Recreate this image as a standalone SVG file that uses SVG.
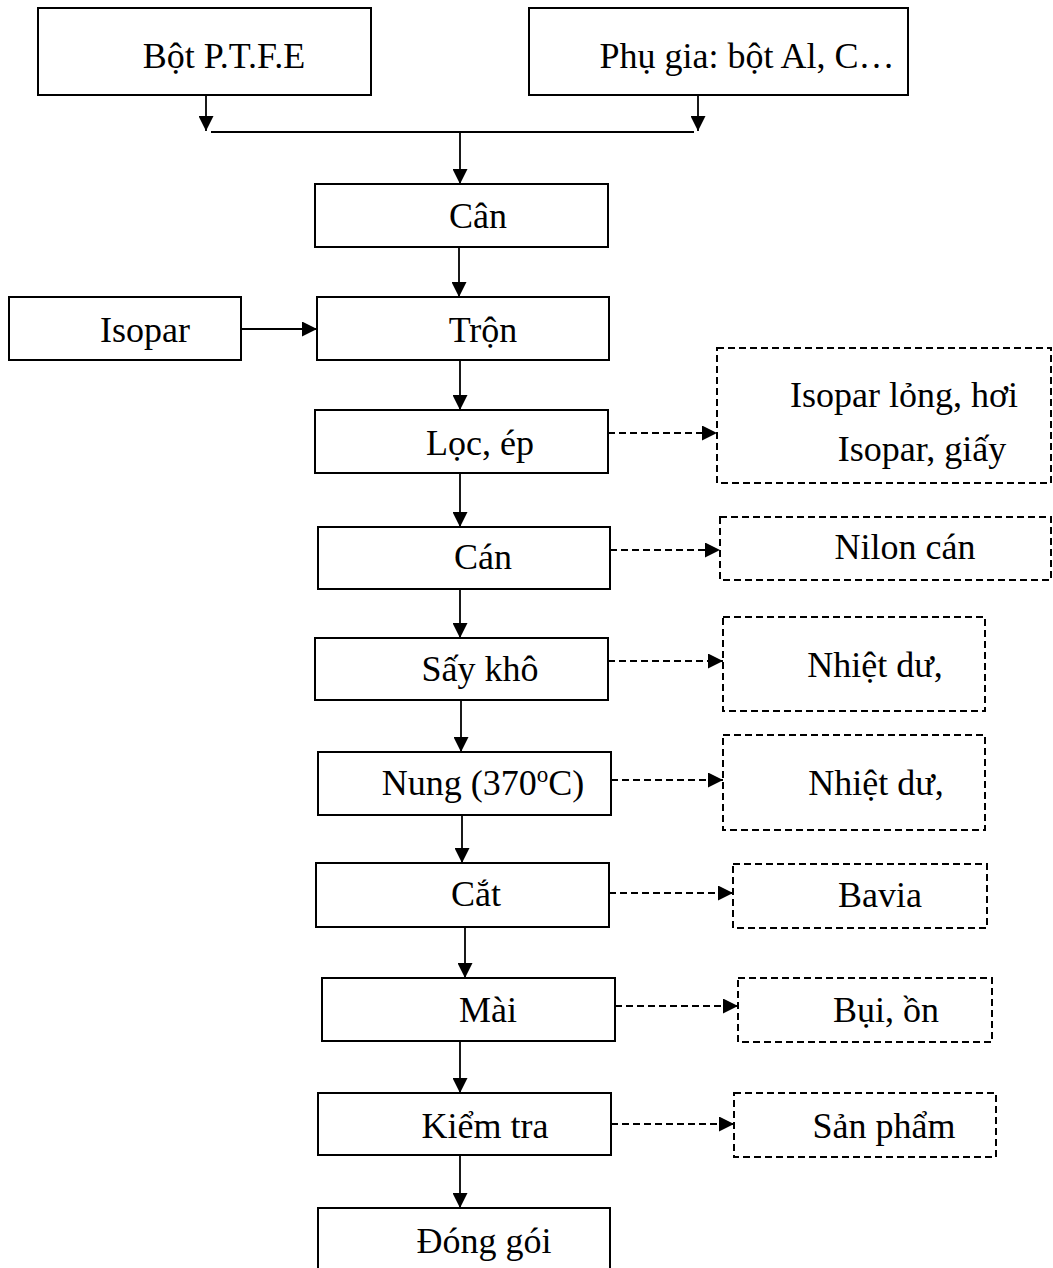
<svg xmlns="http://www.w3.org/2000/svg" width="1053" height="1268" viewBox="0 0 1053 1268">
  <style>
    .box { fill: #fff; stroke: #000; stroke-width: 2; }
    .dbox { fill: #fff; stroke: #000; stroke-width: 2; stroke-dasharray: 7 4; }
    .lbl { font-family: "Liberation Serif", "Times New Roman", serif; font-size: 36px; fill: #000; text-anchor: middle; }
    .ln { fill: none; stroke: #000; stroke-width: 1.8; }
    .dln { fill: none; stroke: #000; stroke-width: 2; stroke-dasharray: 7 4; }
  </style>
  <defs>
    <marker id="ah" markerUnits="userSpaceOnUse" markerWidth="16" markerHeight="15" refX="15" refY="7.5" orient="auto">
      <path d="M0,0 L15,7.5 L0,15 Z" fill="#000"/>
    </marker>
  </defs>

  <rect width="1053" height="1268" fill="#fff"/>

  <!-- process steps -->
  <g id="n-ptfe"><rect class="box" x="38" y="8" width="333" height="87"/><text class="lbl" x="224" y="68">Bột P.T.F.E</text></g>
  <g id="n-phugia"><rect class="box" x="529" y="8" width="379" height="87"/><text class="lbl" x="747" y="68">Phụ gia: bột Al, C…</text></g>
  <g id="n-can"><rect class="box" x="315" y="184" width="293" height="63"/><text class="lbl" x="478" y="228">Cân</text></g>
  <g id="n-isopar"><rect class="box" x="9" y="297" width="232" height="63"/><text class="lbl" x="145" y="342">Isopar</text></g>
  <g id="n-tron"><rect class="box" x="317" y="297" width="292" height="63"/><text class="lbl" x="483" y="342">Trộn</text></g>
  <g id="n-loc"><rect class="box" x="315" y="410" width="293" height="63"/><text class="lbl" x="480" y="455">Lọc, ép</text></g>
  <g id="n-cancuon"><rect class="box" x="318" y="527" width="292" height="62"/><text class="lbl" x="483" y="569">Cán</text></g>
  <g id="n-say"><rect class="box" x="315" y="638" width="293" height="62"/><text class="lbl" x="480" y="681">Sấy khô</text></g>
  <g id="n-nung"><rect class="box" x="318" y="752" width="293" height="63"/><text class="lbl" x="483" y="795">Nung (370<tspan font-size="23" dy="-13">o</tspan><tspan dy="13">C)</tspan></text></g>
  <g id="n-cat"><rect class="box" x="316" y="863" width="293" height="64"/><text class="lbl" x="476" y="906">Cắt</text></g>
  <g id="n-mai"><rect class="box" x="322" y="978" width="293" height="63"/><text class="lbl" x="488" y="1022">Mài</text></g>
  <g id="n-kiemtra"><rect class="box" x="318" y="1093" width="293" height="62"/><text class="lbl" x="485" y="1138">Kiểm tra</text></g>
  <g id="n-donggoi"><rect class="box" x="318" y="1208" width="292" height="80"/><text class="lbl" x="484" y="1253">Đóng gói</text></g>

  <!-- by-products / emissions -->
  <g id="w-loc"><rect class="dbox" x="717" y="348" width="334" height="135"/><text class="lbl" x="904" y="407">Isopar lỏng, hơi</text><text class="lbl" x="922" y="461">Isopar, giấy</text></g>
  <g id="w-can"><rect class="dbox" x="720" y="517" width="331" height="63"/><text class="lbl" x="905" y="559">Nilon cán</text></g>
  <g id="w-say"><rect class="dbox" x="723" y="617" width="262" height="94"/><text class="lbl" x="875" y="677">Nhiệt dư,</text></g>
  <g id="w-nung"><rect class="dbox" x="723" y="735" width="262" height="95"/><text class="lbl" x="876" y="795">Nhiệt dư,</text></g>
  <g id="w-cat"><rect class="dbox" x="733" y="864" width="254" height="64"/><text class="lbl" x="880" y="907">Bavia</text></g>
  <g id="w-mai"><rect class="dbox" x="738" y="978" width="254" height="64"/><text class="lbl" x="886" y="1022">Bụi, ồn</text></g>
  <g id="w-kiemtra"><rect class="dbox" x="734" y="1093" width="262" height="64"/><text class="lbl" x="884" y="1138">Sản phẩm</text></g>

  <!-- connectors -->
  <g id="connectors">
    <line class="ln" x1="206" y1="95" x2="206" y2="131" marker-end="url(#ah)"/>
    <line class="ln" x1="698" y1="95" x2="698" y2="131" marker-end="url(#ah)"/>
    <line class="ln" x1="211" y1="132" x2="694" y2="132"/>
    <line class="ln" x1="460" y1="132" x2="460" y2="184" marker-end="url(#ah)"/>
    <line class="ln" x1="459" y1="247" x2="459" y2="297" marker-end="url(#ah)"/>
    <line class="ln" x1="241" y1="329" x2="317" y2="329" marker-end="url(#ah)"/>
    <line class="ln" x1="460" y1="360" x2="460" y2="410" marker-end="url(#ah)"/>
    <line class="ln" x1="460" y1="473" x2="460" y2="527" marker-end="url(#ah)"/>
    <line class="ln" x1="460" y1="589" x2="460" y2="638" marker-end="url(#ah)"/>
    <line class="ln" x1="461" y1="700" x2="461" y2="752" marker-end="url(#ah)"/>
    <line class="ln" x1="462" y1="815" x2="462" y2="863" marker-end="url(#ah)"/>
    <line class="ln" x1="465" y1="927" x2="465" y2="978" marker-end="url(#ah)"/>
    <line class="ln" x1="460" y1="1041" x2="460" y2="1093" marker-end="url(#ah)"/>
    <line class="ln" x1="460" y1="1155" x2="460" y2="1208" marker-end="url(#ah)"/>

    <line class="dln" x1="608" y1="433" x2="717" y2="433" marker-end="url(#ah)"/>
    <line class="dln" x1="610" y1="550" x2="720" y2="550" marker-end="url(#ah)"/>
    <line class="dln" x1="608" y1="661" x2="723" y2="661" marker-end="url(#ah)"/>
    <line class="dln" x1="611" y1="780" x2="723" y2="780" marker-end="url(#ah)"/>
    <line class="dln" x1="609" y1="893" x2="733" y2="893" marker-end="url(#ah)"/>
    <line class="dln" x1="615" y1="1006" x2="738" y2="1006" marker-end="url(#ah)"/>
    <line class="dln" x1="611" y1="1124" x2="734" y2="1124" marker-end="url(#ah)"/>
  </g>
</svg>
